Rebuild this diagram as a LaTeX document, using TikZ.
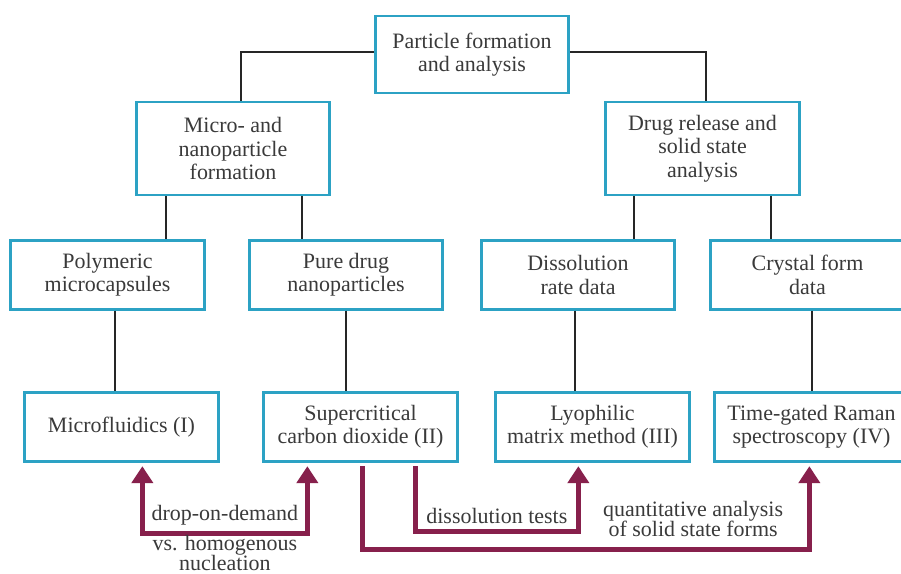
\documentclass[tikz,border=0pt]{standalone}
\usepackage{fontspec}
\setmainfont{Liberation Serif}
\usepackage{tikz}
\usetikzlibrary{arrows.meta}
\usetikzlibrary{calc}
\usetikzlibrary{positioning}
\definecolor{boxblue}{RGB}{44,162,196}
\definecolor{routered}{RGB}{135,32,76}
\definecolor{textgray}{RGB}{58,58,58}

\begin{document}
\begin{tikzpicture}[
    box/.style={rectangle, draw=boxblue, line width=1.6pt, fill=white,
      minimum width=3.87cm, align=center, text=textgray,
      font=\fontsize{12.5}{13.3}\selectfont},
    tall/.style={box, minimum height=1.86cm},
    short/.style={box, minimum height=1.37cm},
    link/.style={draw=black!85, line width=1.1pt},
    route/.style={draw=routered, line width=2.8pt,
      shorten <=2pt, shorten >=2pt},
    twoway/.style={route, {Triangle[width=0.42cm,length=0.34cm]}-{Triangle[width=0.42cm,length=0.34cm]}},
    oneway/.style={route, -{Triangle[width=0.42cm,length=0.34cm]}},
    tag/.style={text=textgray, align=center, font=\fontsize{12.5}{11.6}\selectfont},
  ]
  \useasboundingbox[fill=white] (0,0) rectangle (18.02,-11.46);

  \node[box, minimum height=1.54cm] (root) at (9.44,-1.09) {Particle formation\\and analysis};
  \node[tall] (micro) at (4.66,-2.97) {Micro- and\\nanoparticle\\formation};
  \node[tall] (drug) at (14.05,-2.97) {Drug release and\\solid state\\analysis};

  \node[short] (poly) at (2.15,-5.50) {Polymeric\\microcapsules};
  \node[short] (pure) at (6.92,-5.50) {Pure drug\\nanoparticles};
  \node[short] (diss) at (11.56,-5.50) {Dissolution\\rate data};
  \node[short] (cryst) at (16.15,-5.50) {Crystal form\\data};

  \node[short] (microfl) at (2.43,-8.54) {Microfluidics (I)};
  \node[short] (super) at (7.21,-8.54) {Supercritical\\carbon dioxide (II)};
  \node[short] (lyo) at (11.85,-8.54) {Lyophilic\\matrix method (III)};
  \node[short] (time) at (16.23,-8.54) {Time-gated Raman\\spectroscopy (IV)};

  \draw[link] ([yshift=0.05cm]root.west) -| ([xshift=0.16cm]micro.north);
  \draw[link] ([yshift=0.05cm]root.east) -| ([xshift=0.07cm]drug.north);
  \draw[link] ([xshift=0.62cm]micro.south west) -- ([xshift=0.62cm]micro.south west |- poly.north);
  \draw[link] ([xshift=-0.58cm]micro.south east) -- ([xshift=-0.58cm]micro.south east |- pure.north);
  \draw[link] ([xshift=0.60cm]drug.south west) -- ([xshift=0.60cm]drug.south west |- diss.north);
  \draw[link] ([xshift=-0.60cm]drug.south east) -- ([xshift=-0.60cm]drug.south east |- cryst.north);
  \draw[link] ([xshift=0.15cm]poly.south) -- ([xshift=0.15cm]poly.south |- microfl.north);
  \draw[link] (pure.south) -- (pure.south |- super.north);
  \draw[link] ([xshift=-0.06cm]diss.south) -- ([xshift=-0.06cm]diss.south |- lyo.north);
  \draw[link] ([xshift=0.09cm]cryst.south) -- ([xshift=0.09cm]cryst.south |- time.north);

  \draw[twoway] ([xshift=2.38cm]microfl.south west) -- ++(0,-1.42)
    -| node[pos=0.25, above, tag] (dropA) {drop-on-demand}
       node[pos=0.25, anchor=north, inner sep=0pt, yshift=0.5pt, tag] (dropB) {vs. homogenous\\nucleation}
    ([xshift=0.90cm]super.south west);
  \draw[oneway] ([xshift=3.06cm]super.south west) -- ++(0,-1.38)
    -| node[pos=0.25, above, tag] (dtest) {dissolution tests}
    ([xshift=1.68cm]lyo.south west);
  \draw[oneway] ([xshift=2.00cm]super.south west) -- ++(0,-1.74)
    -| node[pos=0.37, above, yshift=2.5pt, tag] (quant) {quantitative analysis\\of solid state forms}
    ([xshift=1.92cm]time.south west);
\end{tikzpicture}
\end{document}
